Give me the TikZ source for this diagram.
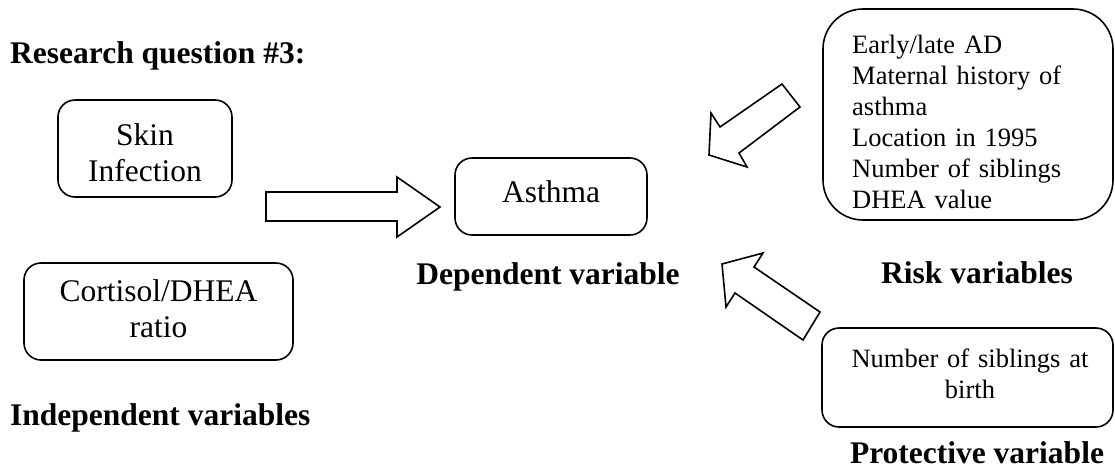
\documentclass[tikz,border=0pt]{standalone}
\usepackage{fontspec}
\setmainfont{Liberation Serif}
\begin{document}
\begin{tikzpicture}[x=1pt,y=-1pt]
\tikzset{
  box/.style={draw, line width=1.6pt, rounded corners=17pt, inner sep=0pt},
  bigbox/.style={draw, line width=1.6pt, rounded corners=40pt, inner sep=0pt},
  bigtxt/.style={font=\fontsize{31.5}{36.2}\selectfont, inner sep=0pt, anchor=base},
  smalltxt/.style={font=\fontsize{26.5}{31}\selectfont, inner sep=0pt, anchor=base},
  lbl/.style={font=\fontsize{31.5}{36.2}\selectfont\bfseries, inner sep=0pt},
  blockarrow/.style={draw, line width=1.6pt, line join=miter, fill=white}
}
\useasboundingbox (0,0) rectangle (1115,469);

% boxes
\node[box, minimum width=174pt, minimum height=97pt] (skin) at (145,148.5) {};
\node[box, minimum width=269pt, minimum height=97pt] (cort) at (158.5,311.5) {};
\node[box, minimum width=192pt, minimum height=77pt] (asthma) at (551,196.5) {};
\node[bigbox, minimum width=290pt, minimum height=211pt] (risk) at (968,114.5) {};
\node[box, minimum width=291pt, minimum height=99pt] (prot) at (967.5,377.5) {};

% box texts
\node[bigtxt, text width=174pt, align=center] (skint) at (145,145) {Skin\\Infection};
\node[bigtxt, text width=269pt, align=center] (cortt) at (158.5,301) {Cortisol/DHEA\\ratio};
\node[bigtxt] (asthmat) at (551,202) {Asthma};
\node[smalltxt, text width=250pt, align=left, anchor=base west] (riskt) at (852,53)
  {Early/late AD\\Maternal history of\\asthma\\Location in 1995\\Number of siblings\\DHEA value};
\node[smalltxt, text width=291pt, align=center] (prott) at (970,367) {Number of siblings at\\birth};

% labels
\node[lbl, anchor=base west] (rq) at (10,63) {Research question \#3:};
\node[lbl, anchor=base] (dep) at (548,284) {Dependent variable};
\node[lbl, anchor=base] (riskl) at (977,283) {Risk variables};
\node[lbl, anchor=base west] (ind) at (10,425) {Independent variables};
\node[lbl, anchor=base] (protl) at (977,463) {Protective variable};

% block arrows
\draw[blockarrow] (266,192) -- (397,192) -- (397,177) -- (440,207) -- (397,237) -- (397,221) -- (266,221) -- cycle;
\draw[blockarrow] (782,84) -- (800,107) -- (739,153) -- (747,167) -- (709,155) -- (711,113) -- (720,127) -- cycle;
\draw[blockarrow] (722,264) -- (763,253) -- (754,267) -- (820,312) -- (803,340) -- (735,293) -- (726,307) -- cycle;
\end{tikzpicture}
\end{document}
